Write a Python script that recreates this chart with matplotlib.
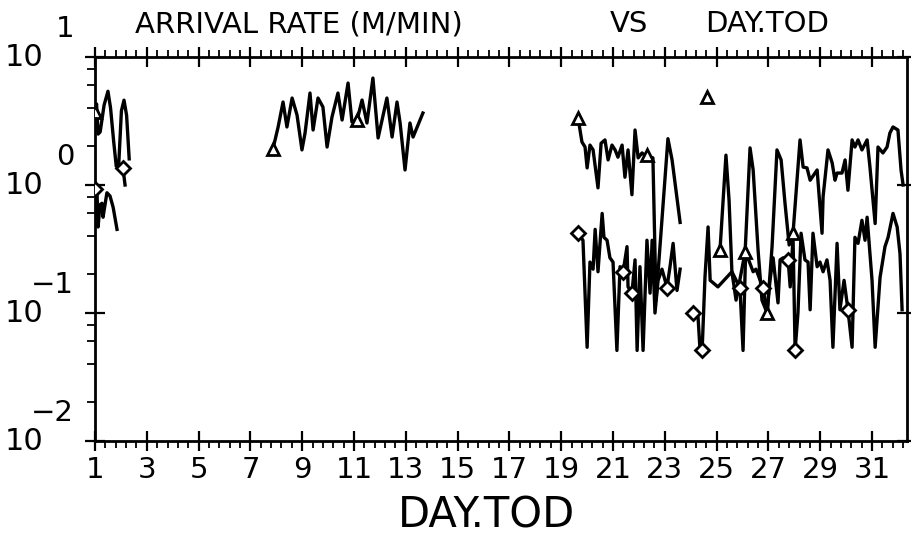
import numpy as np
import matplotlib
matplotlib.use("Agg")
import matplotlib.pyplot as plt
import matplotlib.transforms as mtransforms
from matplotlib.ticker import FixedLocator, LogLocator, NullFormatter

nan = np.nan

# ---- data ----
upper_day = [1.00, 1.06, 1.12, 1.20, 1.35, 1.50, 1.60, 1.72, 1.82, 1.92, 2.02, 2.12, 2.22, 2.32, nan,
             7.87, 8.07, 8.26, 8.41, 8.61, 8.80, 8.99, 9.11, 9.30, 9.42, 9.61, 9.80, 9.96, 10.15, 10.38,
             10.54, 10.77, 10.92, 11.12, 11.31, 11.50, 11.73, 11.93, 12.27, 12.47, 12.66, 12.78, 12.97,
             13.16, 13.28, 13.66, nan,
             19.65, 19.80, 19.92, 20.00, 20.11, 20.23, 20.42, 20.54, 20.69, 20.81, 20.96, 21.08, 21.19,
             21.35, 21.46, 21.58, 21.73, 21.85, 21.97, 22.12, 22.31, 22.43, 22.54, 22.66, 23.12, 23.28,
             23.59, nan,
             25.13, 25.36, 25.48, 25.59, 25.75, 26.10, 26.29, 26.41, 26.60, 26.75, 26.95, 27.14, 27.33,
             27.49, 27.64, 27.80, 27.95, 28.22, 28.34, 28.49, 28.61, 28.88, 29.07, 29.11, 29.30, 29.46,
             29.57, 29.65, 29.84, 29.96, 30.07, 30.23, 30.34, 30.46, 30.61, 30.81, 30.92, 31.12, 31.23,
             31.42, 31.58, 31.69, 31.81, 32.00, 32.12, 32.20]
upper_rate = [3.7, 4.3, 2.5, 2.6, 4.2, 5.4, 4.0, 2.2, 1.4, 1.5, 3.8, 4.6, 3.5, 1.6, nan,
              1.91, 2.84, 4.45, 2.84, 4.78, 3.52, 1.88, 2.55, 5.23, 2.69, 4.78, 4.07, 1.98, 3.40, 5.23,
              3.22, 6.26, 3.11, 3.22, 4.61, 3.05, 6.85, 2.33, 4.78, 2.37, 4.45, 3.05, 1.31,
              3.05, 2.37, 3.65, nan,
              3.34, 2.17, 1.98, 1.36, 2.05, 1.88, 0.95, 2.12, 2.25, 1.57, 2.05, 1.88, 1.65,
              2.05, 1.15, 1.88, 0.84, 2.69, 1.63, 1.78, 1.65, 1.65, 1.63, 0.126, 2.30, 1.57,
              0.51, nan,
              0.31, 1.71, 0.76, 0.21, 0.126, 0.30, 1.95, 1.31, 0.31, 0.126, 0.10, 0.33, 1.88,
              1.57, 0.72, 0.34, 0.42, 2.25, 1.38, 1.36, 1.09, 1.31, 0.42, 0.81, 1.88, 1.49,
              1.09, 1.24, 1.24, 1.57, 0.91, 2.25, 1.98, 2.25, 1.88, 2.25, 1.38, 0.50, 1.98,
              1.78, 1.98, 2.55, 2.84, 2.69, 1.31, 1.00]

lower_day = [1.00, 1.08, 1.12, 1.19, 1.27, 1.31, 1.46, 1.58, 1.70, 1.85, nan,
             2.08, 2.16, nan,
             19.65, 19.84, 20.00, 20.11, 20.23, 20.31, 20.42, 20.58, 20.65, 20.77, 20.88, 21.00, 21.15,
             21.27, 21.39, 21.54, 21.58, 21.73, 21.85, 21.93, 22.04, 22.16, 22.31, 22.43, 22.51, 22.62,
             22.74, 22.89, 23.01, 23.08, 23.20, 23.32, 23.47, 23.59, nan,
             24.09, 24.28, 24.36, 24.44, 24.55, 24.67, 24.75, 25.05, 25.59, 25.90, 26.02, 26.12, 26.41,
             26.52, 26.79, 26.95, 27.06, 27.18, 27.37, 27.45, 27.57, 27.76, 27.84, 27.95, 28.03, 28.14,
             28.26, 28.41, 28.53, 28.61, 28.72, 28.88, 28.99, 29.11, 29.26, 29.38, 29.49, 29.65, 29.76,
             29.92, 30.07, 30.23, 30.34, 30.46, 30.61, 30.73, 30.81, 31.00, 31.12, 31.31, 31.50, 31.62,
             31.81, 31.97, 32.08, 32.16]
lower_rate = [0.91, 0.84, 0.47, 0.70, 0.72, 0.56, 0.87, 0.82, 0.67, 0.45, nan,
              1.36, 1.00, nan,
              0.42, 0.37, 0.054, 0.25, 0.22, 0.45, 0.21, 0.60, 0.39, 0.37, 0.27, 0.25, 0.051,
              0.23, 0.21, 0.33, 0.16, 0.143, 0.26, 0.051, 0.23, 0.051, 0.37, 0.143, 0.37, 0.10,
              0.18, 0.22, 0.18, 0.157, 0.23, 0.35, 0.15, 0.22, nan,
              0.10, 0.095, 0.051, 0.051, 0.19, 0.47, 0.18, 0.16, 0.21, 0.157, 0.051, 0.30, 0.21,
              0.22, 0.157, 0.10, 0.18, 0.27, 0.12, 0.26, 0.27, 0.26, 0.16, 0.39, 0.051, 0.10,
              0.42, 0.26, 0.25, 0.106, 0.42, 0.23, 0.25, 0.21, 0.26, 0.18, 0.054, 0.35, 0.106,
              0.18, 0.106, 0.054, 0.39, 0.35, 0.53, 0.37, 0.56, 0.18, 0.054, 0.19, 0.33, 0.39,
              0.60, 0.47, 0.29, 0.106]

tri_mark_day = [1.00, 7.87, 11.12, 19.65, 22.31, 24.63, 25.13, 26.10, 26.95, 27.95]
tri_mark_rate = [3.7, 1.91, 3.22, 3.34, 1.71, 4.87, 0.31, 0.30, 0.10, 0.42]
dia_mark_day = [1.00, 2.08, 19.65, 21.39, 21.73, 23.08, 24.09, 24.44, 25.90, 26.79, 27.76, 28.03, 30.07]
dia_mark_rate = [0.93, 1.36, 0.42, 0.21, 0.143, 0.157, 0.10, 0.051, 0.157, 0.157, 0.26, 0.051, 0.106]

x_ticks = [1, 3, 5, 7, 9, 11, 13, 15, 17, 19, 21, 23, 25, 27, 29, 31]
x_tick_labels = ["1", "3", "5", "7", "9", "11", "13", "15", "17", "19", "21", "23", "25", "27", "29", "31"]
y_decades = [10.0, 1.0, 0.1, 0.01]
y_exponents = ["1", "0", "\u22121", "\u22122"]

title_left = "ARRIVAL RATE (M/MIN)"
title_mid = "VS"
title_right = "DAY.TOD"
x_label = "DAY.TOD"

# ---- figure ----
W, H = 911, 535
fig = plt.figure(figsize=(W / 100, H / 100), dpi=100)
fig.patch.set_facecolor("white")
ax = fig.add_axes([95 / W, 1 - 441 / H, (907 - 95) / W, (441 - 57) / H])

ax.set_yscale("log")
ax.set_ylim(0.01, 10)
ax.set_xlim(1, 32.35)

ax.plot(upper_day, upper_rate, color="black", lw=2.4, solid_joinstyle="round", zorder=3)
ax.plot(lower_day, lower_rate, color="black", lw=2.4, solid_joinstyle="round", zorder=3)
ax.plot(tri_mark_day, tri_mark_rate, linestyle="none", marker="^", ms=9, mfc="white",
        mec="black", mew=2.0, zorder=4)
ax.plot(dia_mark_day, dia_mark_rate, linestyle="none", marker="D", ms=7, mfc="white",
        mec="black", mew=2.0, zorder=4)

for s in ax.spines.values():
    s.set_linewidth(2.0)
    s.set_color("black")

ax.xaxis.set_major_locator(FixedLocator(x_ticks))
ax.set_xticklabels(x_tick_labels)
ax.xaxis.set_minor_locator(FixedLocator(np.arange(1, 32.4, 0.4)))
ax.yaxis.set_major_locator(LogLocator(base=10))
ax.yaxis.set_minor_locator(LogLocator(base=10, subs=(2, 4, 6, 8)))
ax.yaxis.set_minor_formatter(NullFormatter())

ax.tick_params(axis="x", which="major", direction="inout", length=14, width=1.6,
               top=True, bottom=True, labelsize=21, pad=4)
ax.tick_params(axis="x", which="minor", direction="out", length=5, width=1.3,
               top=True, bottom=True)
ax.tick_params(axis="y", which="major", direction="inout", length=14, width=1.6,
               left=True, right=True, labelleft=False)
ax.tick_params(axis="y", which="minor", direction="out", length=6, width=1.3,
               left=True, right=False)

# y tick labels drawn as "10" + big exponent
trans = mtransforms.blended_transform_factory(fig.transFigure, ax.transData)
trans_exp = mtransforms.offset_copy(trans, fig=fig, x=0, y=28, units="dots")
for val, ex in zip(y_decades, y_exponents):
    ax.text(5 / W, val, "10", transform=trans, ha="left", va="center", fontsize=22,
            clip_on=False)
    ax.text(74 / W, val, ex, transform=trans_exp, ha="right", va="center", fontsize=21,
            clip_on=False)

fig.text(135 / W, 1 - 32 / H, title_left, ha="left", va="baseline", fontsize=21)
fig.text(610 / W, 1 - 32 / H, title_mid, ha="left", va="baseline", fontsize=21)
fig.text(705 / W, 1 - 32 / H, title_right, ha="left", va="baseline", fontsize=21)
fig.text(487 / W, 1 - 527 / H, x_label, ha="center", va="baseline", fontsize=30)

fig.savefig("out.png", dpi=100, facecolor="white")
